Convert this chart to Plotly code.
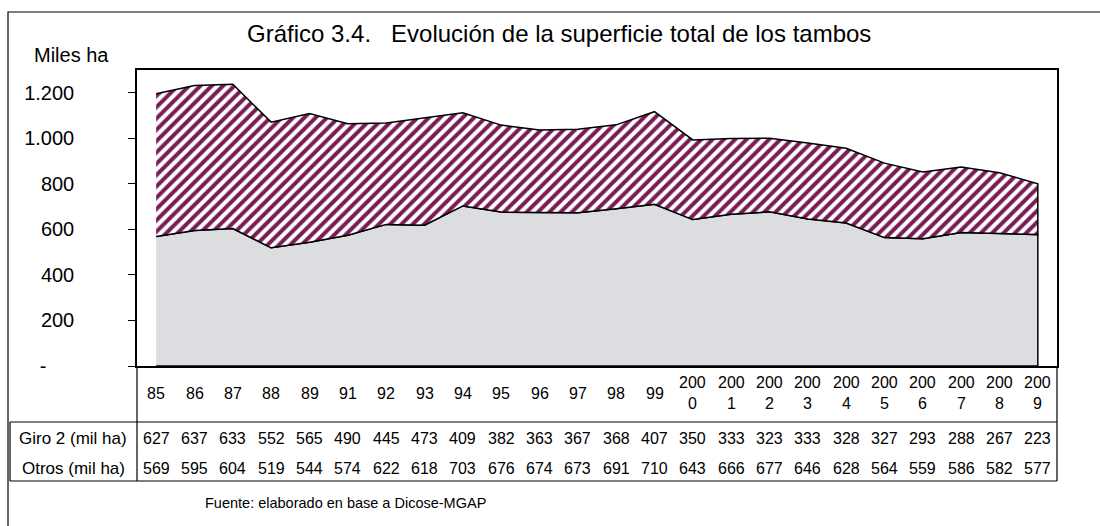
import plotly.graph_objects as go

# ---- data ----
years = ["85", "86", "87", "88", "89", "91", "92", "93", "94", "95", "96", "97",
         "98", "99", "2000", "2001", "2002", "2003", "2004", "2005", "2006",
         "2007", "2008", "2009"]
year_labels = ["85", "86", "87", "88", "89", "91", "92", "93", "94", "95", "96", "97",
               "98", "99", "200<br>0", "200<br>1", "200<br>2", "200<br>3", "200<br>4",
               "200<br>5", "200<br>6", "200<br>7", "200<br>8", "200<br>9"]
giro2 = [627, 637, 633, 552, 565, 490, 445, 473, 409, 382, 363, 367, 368, 407,
         350, 333, 323, 333, 328, 327, 293, 288, 267, 223]
otros = [569, 595, 604, 519, 544, 574, 622, 618, 703, 676, 674, 673, 691, 710,
         643, 666, 677, 646, 628, 564, 559, 586, 582, 577]
ytick_vals = [0, 200, 400, 600, 800, 1000, 1200]
ytick_text = ["-\u00a0\u00a0\u00a0\u00a0\u00a0", "200", "400", "600", "800", "1.000", "1.200"]

title_text = "Gráfico 3.4.   Evolución de la superficie total de los tambos"
row_labels = ["Giro 2 (mil ha)", "Otros (mil ha)"]
source_text = "Fuente: elaborado en base a Dicose-MGAP"

FONT = "Arial, Liberation Sans, Arimo, sans-serif"
W, H = 1100, 526
L, R, T, B = 137, 1057, 70, 366  # plot box in pixels


def px(x):
    return (x - L) / (R - L)


def py(y):
    return (B - y) / (B - T)


n = len(years)
idx = list(range(n))
total = [g + o for g, o in zip(giro2, otros)]

fig = go.Figure()

# Otros polygon (bottom area)
fig.add_trace(go.Scatter(
    x=idx + idx[::-1], y=otros + [0] * n,
    fill="toself", fillcolor="#dcdde0", mode="lines",
    line=dict(color="black", width=1.5), hoverinfo="skip", showlegend=False,
    name="Otros"))

# Giro 2 polygon (top area, striped)
fig.add_trace(go.Scatter(
    x=idx + idx[::-1], y=total + otros[::-1],
    fill="toself", fillcolor="#ffffff", mode="lines",
    fillpattern=dict(shape="/", fgcolor="#781c55", bgcolor="#ffffff",
                     size=8, solidity=0.5, fillmode="replace"),
    line=dict(color="black", width=1.5), hoverinfo="skip", showlegend=False,
    name="Giro 2"))

annotations = []
# title
annotations.append(dict(text=title_text, x=px(559), y=py(33), xref="paper", yref="paper",
                        showarrow=False, xanchor="center", yanchor="middle",
                        font=dict(family=FONT, size=24, color="black")))
# y-axis unit
annotations.append(dict(text="Miles ha", x=px(71), y=py(55), xref="paper", yref="paper",
                        showarrow=False, xanchor="center", yanchor="middle",
                        font=dict(family=FONT, size=20, color="black")))
# category labels
for i, lab in enumerate(year_labels):
    annotations.append(dict(text=lab, x=i, y=py(393), xref="x", yref="paper",
                            showarrow=False, xanchor="center", yanchor="middle",
                            font=dict(family=FONT, size=16, color="black")))
# table values
for i in idx:
    annotations.append(dict(text=str(giro2[i]), x=i, y=py(438), xref="x", yref="paper",
                            showarrow=False, xanchor="center", yanchor="middle",
                            font=dict(family=FONT, size=16, color="black")))
    annotations.append(dict(text=str(otros[i]), x=i, y=py(468), xref="x", yref="paper",
                            showarrow=False, xanchor="center", yanchor="middle",
                            font=dict(family=FONT, size=16, color="black")))
# table row labels
for lab, yy in zip(row_labels, [438, 468]):
    annotations.append(dict(text=lab, x=px(73), y=py(yy), xref="paper", yref="paper",
                            showarrow=False, xanchor="center", yanchor="middle",
                            font=dict(family=FONT, size=17, color="black")))
# source
annotations.append(dict(text=source_text, x=px(203), y=py(503), xref="paper", yref="paper",
                        showarrow=False, xanchor="left", yanchor="middle",
                        font=dict(family=FONT, size=14.5, color="black")))

shapes = []


def hline(y, x0, x1, w=1.2):
    shapes.append(dict(type="line", xref="paper", yref="paper",
                       x0=px(x0), x1=px(x1), y0=py(y), y1=py(y),
                       line=dict(color="black", width=w)))


def vline(x, y0, y1, w=1.2):
    shapes.append(dict(type="line", xref="paper", yref="paper",
                       x0=px(x), x1=px(x), y0=py(y0), y1=py(y1),
                       line=dict(color="black", width=w)))


# outer frame
shapes.append(dict(type="rect", xref="paper", yref="paper",
                   x0=px(8), x1=px(1115), y0=py(12), y1=py(540),
                   line=dict(color="black", width=1.2), layer="below"))
# data table grid
hline(422, 10, 1057)
hline(481, 10, 1057)
vline(137, 366, 481)
vline(1057, 366, 481)
vline(10, 422, 481)

fig.update_layout(
    width=W, height=H,
    margin=dict(l=L, r=W - R, t=T, b=H - B, pad=0),
    paper_bgcolor="white", plot_bgcolor="white",
    font=dict(family=FONT, size=16, color="black"),
    xaxis=dict(range=[-0.5, n - 0.5], showticklabels=False, ticks="",
               showgrid=False, zeroline=False, showline=True, mirror=True,
               linecolor="black", linewidth=1.5, fixedrange=True),
    yaxis=dict(range=[0, 1300], tickvals=ytick_vals, ticktext=ytick_text,
               ticks="outside", ticklen=7, tickcolor="black", tickwidth=1,
               ticklabelstandoff=50,
               tickfont=dict(family=FONT, size=20, color="black"),
               showgrid=False, zeroline=False, showline=True, mirror=True,
               linecolor="black", linewidth=1.5, fixedrange=True),
    annotations=annotations, shapes=shapes,
    showlegend=False,
)

fig.write_html(
    "out.html",
    config={"displayModeBar": False},
    post_script="document.body.style.margin='0';document.body.style.overflow='hidden';",
)
